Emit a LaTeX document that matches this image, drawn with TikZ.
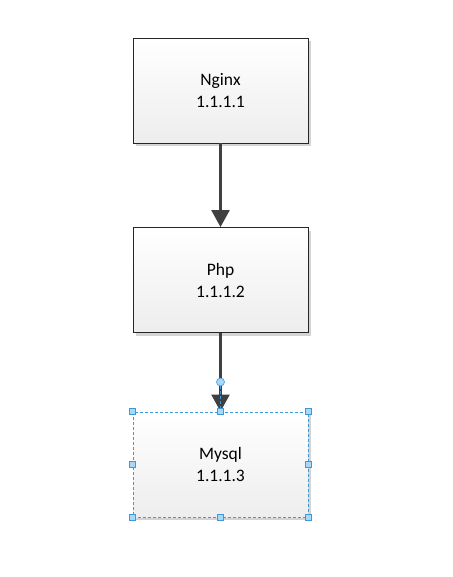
\documentclass[tikz,border=0pt]{standalone}
\usepackage{fontspec}
\setmainfont{Carlito}
\usetikzlibrary{arrows.meta,shadows}
\definecolor{arrowgray}{HTML}{404040}
\definecolor{selblue}{HTML}{3C9AD8}
\definecolor{handlefill}{HTML}{A8D8F8}
\definecolor{shadowgray}{HTML}{D4D4D4}
\begin{document}
\begin{tikzpicture}[x=1pt,y=-1pt,
  box/.style={draw=black!85,line width=0.9pt,minimum width=175pt,minimum height=105pt,
    top color=white,bottom color=black!7,align=center,
    font=\fontsize{17.5}{22}\selectfont,
    drop shadow={shadow xshift=3pt,shadow yshift=-3pt,fill=shadowgray,opacity=1}},
  selbox/.style={box,draw=selblue,dashed,dash pattern=on 3pt off 2pt},
  conn/.style={draw=arrowgray,line width=2.5pt,-{Triangle[length=17pt,width=18pt]}},
  handle/.style={draw=selblue,fill=handlefill,line width=0.6pt,minimum size=6pt,inner sep=0pt},
  knob/.style={circle,draw=selblue,fill=handlefill,line width=0.6pt,minimum size=8pt,inner sep=0pt}]
\useasboundingbox[fill=white] (0,0) rectangle (452,577);
\node[box] (nginx) at (220.5,90.5) {Nginx\\1.1.1.1};
\node[box] (php) at (220.5,280) {Php\\1.1.1.2};
\node[selbox] (mysql) at (220.5,464.5) {Mysql\\1.1.1.3};
\draw[conn] (nginx.south) -- (php.north);
\draw[conn] (php.south) -- (mysql.north);
\node[knob] (k) at (220.5,382) {};
\draw[selblue,line width=0.6pt,dash pattern=on 3pt off 2pt] (k.south) -- (mysql.north);
\foreach \a in {north west,north,north east,west,east,south west,south,south east}
  \node[handle] at (mysql.\a) {};
\end{tikzpicture}
\end{document}
